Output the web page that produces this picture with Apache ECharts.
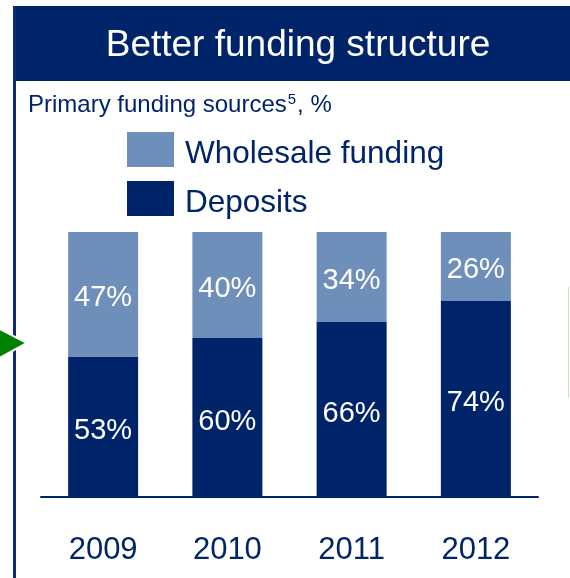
<!DOCTYPE html>
<html>
<head>
<meta charset="utf-8">
<script src="https://cdn.jsdelivr.net/npm/echarts@6/dist/echarts.min.js"></script>
<style>
  html, body { margin: 0; padding: 0; background: #ffffff; }
  #chart { width: 570px; height: 578px; }
</style>
</head>
<body>
<div id="chart"></div>
<script>
// Funding mix by year, in percent of primary funding sources
const years = ['2009', '2010', '2011', '2012'];
const deposits = [53, 60, 66, 74];
const wholesale = [47, 40, 34, 26];

const NAVY = '#002469';
const LIGHT = '#6F8FBB';
const FONT = '"Liberation Sans", Arial, sans-serif';

const chart = echarts.init(document.getElementById('chart'), null, { renderer: 'canvas' });

const valueLabel = {
  show: true,
  position: 'inside',
  offset: [0, 4],
  formatter: '{c}%',
  color: '#ffffff',
  fontSize: 29,
  fontFamily: FONT
};

chart.setOption({
  animation: false,
  backgroundColor: '#ffffff',
  textStyle: { fontFamily: FONT },
  grid: { left: 41, width: 497, top: 232, height: 265 },
  legend: {
    orient: 'vertical',
    left: 127,
    top: 132,
    padding: 0,
    itemWidth: 47,
    itemHeight: 35,
    itemGap: 11,
    icon: 'rect',
    selectedMode: false,
    data: ['Wholesale funding', 'Deposits'],
    formatter: '{t|{name}}',
    textStyle: {
      color: NAVY,
      fontFamily: FONT,
      padding: [0, 0, 0, 6],
      rich: {
        t: { fontSize: 31.5, color: NAVY, fontFamily: FONT, padding: [9, 0, 0, 0] }
      }
    }
  },
  xAxis: {
    type: 'category',
    data: years,
    axisLine: { lineStyle: { color: NAVY, width: 2 } },
    axisTick: { show: false },
    axisLabel: { fontSize: 31, color: NAVY, fontFamily: FONT, margin: 38 }
  },
  yAxis: { type: 'value', min: 0, max: 100, show: false, splitLine: { show: false } },
  series: [
    {
      name: 'Deposits',
      type: 'bar',
      stack: 'mix',
      barWidth: 70,
      data: deposits,
      itemStyle: { color: NAVY },
      label: valueLabel
    },
    {
      name: 'Wholesale funding',
      type: 'bar',
      stack: 'mix',
      barWidth: 70,
      data: wholesale,
      itemStyle: { color: LIGHT },
      label: valueLabel
    }
  ],
  graphic: [
    // header band
    { type: 'rect', left: 13, top: 6, shape: { width: 557, height: 75 }, style: { fill: NAVY }, z: 1 },
    {
      type: 'text', x: 298, y: 46, z: 2,
      style: { text: 'Better funding structure', fill: '#ffffff', font: '37px ' + FONT, textAlign: 'center', textVerticalAlign: 'middle' }
    },
    // left frame rule
    { type: 'rect', left: 13, top: 6, shape: { width: 3, height: 572 }, style: { fill: '#0E2C6E' }, z: 1 },
    // subtitle
    {
      type: 'text', x: 28, y: 105, z: 2,
      style: {
        text: 'Primary funding sources{sup|5}, %',
        fill: NAVY,
        font: '24px ' + FONT,
        textVerticalAlign: 'middle',
        rich: {
          sup: { fontSize: 15, fill: NAVY, fontFamily: FONT, padding: [0, 1, 11, 1] }
        }
      }
    },
    // green pointer on the left edge
    {
      type: 'polygon', z: 3,
      shape: { points: [[-6, 326], [27, 343], [-6, 361]] },
      style: { fill: '#008000', stroke: '#ffffff', lineWidth: 2 }
    },
    // faint rule at right edge
    { type: 'rect', left: 568, top: 287, shape: { width: 1, height: 111 }, style: { fill: '#C9E2C2' }, z: 1 }
  ]
});
</script>
</body>
</html>
